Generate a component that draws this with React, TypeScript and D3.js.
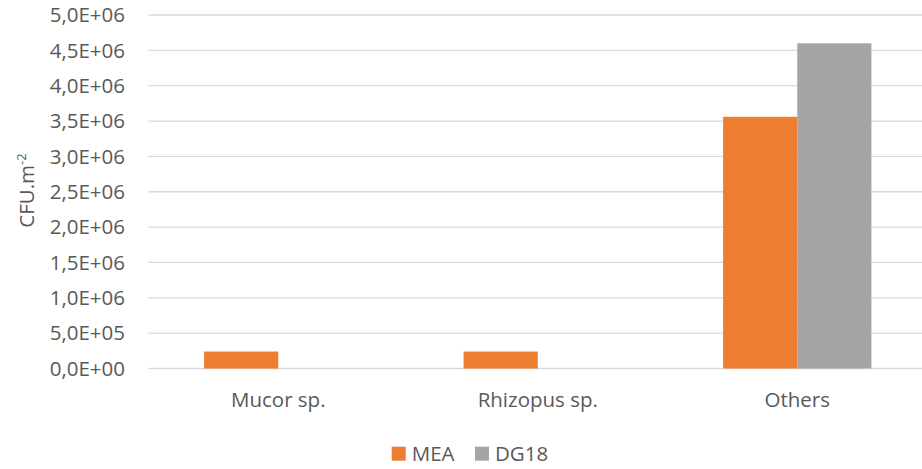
import React from 'react';
import * as d3 from 'd3';

const categories = ['Mucor sp.', 'Rhizopus sp.', 'Others'];
const seriesNames = ['MEA', 'DG18'];
const meaValues = [240000, 240000, 3560000];
const dg18Values = [0, 0, 4600000];
const yTicks = [0, 500000, 1000000, 1500000, 2000000, 2500000, 3000000, 3500000, 4000000, 4500000, 5000000];

const colors = ['#ED7D31', '#A5A5A5'];
const textColor = '#595959';
const font = '"Open Sans", sans-serif';
const fs = 20.5;

// Excel style: 1,0E+06
function fmt(v: number) {
  const exp = v === 0 ? 0 : Math.floor(Math.log10(v));
  const mant = v === 0 ? 0 : v / Math.pow(10, exp);
  return `${mant.toFixed(1).replace('.', ',')}E+${String(exp).padStart(2, '0')}`;
}

const App = () => {
  const width = 922;
  const height = 469;
  const margin = { top: 15, right: -5, bottom: 100.5, left: 148.5 };

  const x = d3.scaleBand<string>()
    .domain(categories)
    .range([margin.left, width - margin.right])
    .paddingInner(0)
    .paddingOuter(0);

  // gap width 150% => bars take 2/3.5 of the band
  const groupW = x.bandwidth() * 2 / 3.5;
  const xs = d3.scaleBand<string>()
    .domain(seriesNames)
    .range([0, groupW]);

  const y = d3.scaleLinear()
    .domain([0, 5000000])
    .range([height - margin.bottom, margin.top]);

  const series = [meaValues, dg18Values];

  return (
    <svg width={width} height={height} style={{ position: 'absolute', left: 0, top: 0, background: '#fff' }}>
      {/* gridlines */}
      {yTicks.map(t => (
        <line key={t} x1={margin.left} x2={width} y1={y(t)} y2={y(t)} stroke="#D9D9D9" strokeWidth={1.3} />
      ))}
      {/* tick labels */}
      {yTicks.map(t => (
        <text key={'l' + t} x={125} y={y(t)} dy="0.35em" textAnchor="end"
          fontFamily={font} fontSize={fs} fill={textColor}>{fmt(t)}</text>
      ))}
      {/* bars */}
      {categories.map((c, i) => {
        const cx = (x(c) as number) + x.bandwidth() / 2;
        return series.map((s, j) => s[i] > 0 ? (
          <rect key={c + j}
            x={cx - groupW / 2 + (xs(seriesNames[j]) as number)}
            y={y(s[i])}
            width={xs.bandwidth()}
            height={y(0) - y(s[i])}
            fill={colors[j]} />
        ) : null);
      })}
      {/* category labels */}
      {categories.map(c => (
        <text key={'c' + c} x={(x(c) as number) + x.bandwidth() / 2} y={407} textAnchor="middle"
          fontFamily={font} fontSize={fs} fill={textColor}>{c}</text>
      ))}
      {/* y axis title */}
      <text transform="translate(34,190.5) rotate(-90)" textAnchor="middle"
        fontFamily={font} fontSize={fs} fill={textColor}>
        CFU.m<tspan fontSize={13} dy={-8}>-2</tspan>
      </text>
      {/* legend */}
      {seriesNames.map((n, j) => {
        const lx = j === 0 ? 391.7 : 475;
        return (
          <g key={n}>
            <rect x={lx} y={446.7} width={14} height={14} fill={colors[j]} />
            <text x={lx + 20} y={460.7} fontFamily={font} fontSize={fs} fill={textColor}>{n}</text>
          </g>
        );
      })}
    </svg>
  );
};

export default App;
